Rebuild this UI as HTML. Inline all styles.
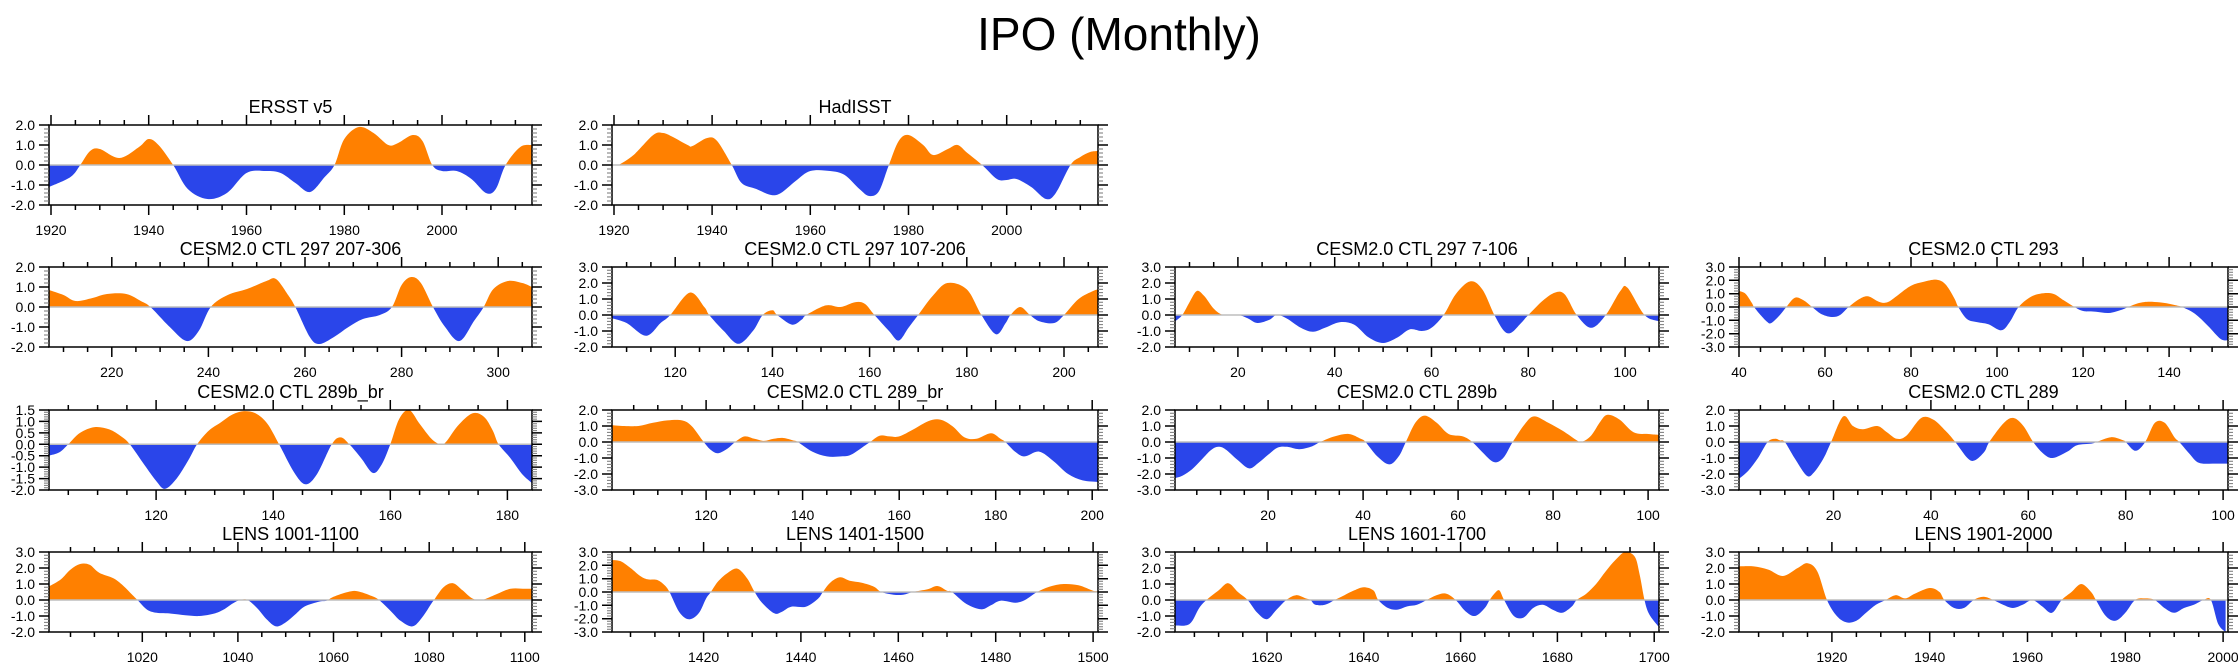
<!DOCTYPE html>
<html><head><meta charset="utf-8">
<style>
html,body{margin:0;padding:0;background:#fff;}
svg{display:block;font-family:"Liberation Sans",Arial,sans-serif;}
</style></head>
<body>
<svg id="chart" width="2238" height="670" viewBox="0 0 2238 670" xmlns="http://www.w3.org/2000/svg">
<rect width="2238" height="670" fill="#fff"/>
<text x="1119" y="50" font-size="46" text-anchor="middle" fill="#000">IPO (Monthly)</text>
</svg>
<script>
// ---- data (x = time, y = IPO index) ----
const ersstX=[1919.6,1924,1926,1928,1930,1934,1938,1940,1942,1945,1948,1952,1956,1960,1964,1967,1970,1973,1976,1978,1980,1983,1986,1989,1991,1994,1996,1998,2000,2003,2006,2009,2011,2013,2016,2018.4];
const ersstY=[-1.1,-0.6,0,0.7,0.8,0.35,0.9,1.3,1.0,0,-1.2,-1.7,-1.4,-0.4,-0.3,-0.4,-0.9,-1.35,-0.6,0,1.3,1.9,1.6,1.0,1.1,1.5,1.2,0,-0.3,-0.3,-0.7,-1.4,-1.2,0,0.9,1.0];
const hadX=[1921,1924,1928,1930,1932,1935,1936,1939,1941,1944,1946,1949,1952,1954,1957,1960,1964,1967,1970,1972,1974,1976,1978,1980,1983,1985,1988,1990,1992,1995,1998,2000,2002,2005,2008,2010,2013,2015,2017,2018.5];
const hadY=[0,0.5,1.5,1.6,1.4,1.0,0.95,1.35,1.2,0,-0.9,-1.2,-1.5,-1.4,-0.8,-0.3,-0.3,-0.5,-1.2,-1.55,-1.3,0,1.2,1.5,1.0,0.5,0.8,1.0,0.6,0,-0.7,-0.75,-0.7,-1.1,-1.7,-1.4,0,0.4,0.65,0.7];
const c297aX=[207,210,212.5,216,219,223,226,228,232,235.5,238,240.5,244,248,252,254,256.5,258,261,263,266,269,272,275.5,278,280,282,284,286.5,289,292,295,297,299,302,305,307];
const c297aY=[0.85,0.6,0.3,0.45,0.65,0.65,0.3,0,-1.0,-1.7,-1.2,0,0.6,0.9,1.3,1.4,0.6,0,-1.5,-1.85,-1.5,-1.0,-0.6,-0.4,0,1.1,1.5,1.2,0,-1.0,-1.7,-0.7,0,0.9,1.3,1.2,1.0];
const c297bX=[107,110,114,117,119,123,126,127,130,133,136,138,140,141,144,146,147,151,154,157,159,161,164,166,168,170,173,176,180,183,186,188,189,191,193,195,198,200,203,206,207];
const c297bY=[-0.2,-0.5,-1.3,-0.5,0,1.4,0.5,0,-1.0,-1.8,-1.0,0,0.3,0,-0.6,-0.3,0,0.6,0.5,0.8,0.7,0,-1.0,-1.6,-0.8,0,1.2,2.0,1.6,0,-1.2,-0.5,0,0.5,0,-0.4,-0.5,0,1.0,1.5,1.6];
const c297cX=[7,8.5,10,11.5,13,15,17,20,22,24,26.5,28,30,33,35.5,38,41,44,47,50,53,55.5,58,60,62.5,65,68,70.5,73,75,76.5,78.5,80,83,85.5,87.5,90,93,96,99,100.5,104,107];
const c297cY=[-0.4,0,0.8,1.5,1.2,0.4,0,0,-0.2,-0.5,-0.3,0,-0.2,-0.8,-1.05,-0.8,-0.45,-0.6,-1.4,-1.75,-1.4,-0.9,-1.0,-0.8,0,1.3,2.1,1.6,0,-1.0,-1.1,-0.5,0,0.9,1.4,1.3,0,-0.8,0,1.5,1.7,0,-0.4];
const c293X=[40,41.5,43,43.5,45,46.5,47.5,49.5,51,53,55,57,59,61.5,63.5,65.5,68,70,72.5,74.5,77,80,83,86,88,90,91,93,95.5,98,101,103,105,107.5,110,113,115.5,118,120,123,126,129,130.5,133,135.5,139,142,143,146,149,152,153.7];
const c293Y=[1.2,1.0,0.3,0,-0.6,-1.1,-1.2,-0.6,0,0.7,0.5,0,-0.5,-0.75,-0.6,0,0.6,0.8,0.4,0.35,0.9,1.6,1.9,2.05,1.7,0.7,0,-0.9,-1.15,-1.3,-1.75,-1.1,0,0.7,1.0,1.0,0.5,0,-0.3,-0.35,-0.45,-0.2,0,0.3,0.4,0.3,0.1,0,-0.5,-1.4,-2.4,-2.5];
const c289bbrX=[101.7,103.5,105,107,109.5,112,114,115.5,118,120,121.5,123.5,125.5,127,129,131,133,135,137,139,141,143.5,145.5,147.5,150,151.5,153,155,157,158.5,160,161.5,163.2,165,167,168.5,169.5,171.5,174,176,177.5,178.5,180.5,182.5,184.2];
const c289bbrY=[-0.5,-0.35,0,0.5,0.75,0.65,0.35,0,-0.9,-1.6,-1.95,-1.5,-0.7,0,0.6,0.95,1.3,1.45,1.35,0.9,0,-1.2,-1.75,-1.3,0,0.3,0,-0.6,-1.25,-0.9,0,1.1,1.5,0.9,0.25,0,0.1,0.8,1.35,1.2,0.6,0,-0.6,-1.3,-1.7];
const c289brX=[100.5,103,106,109,112,115,117,119.5,121,122.5,124.5,126,128,130,132,134,136,138,139,142,145,148,150,153,154,156,158,160,163,166,168.5,171,173.5,176,179,181,182,184,186,189,192,195,198,201.2];
const c289brY=[1.05,1.0,1.0,1.2,1.35,1.35,1.0,0,-0.5,-0.7,-0.4,0,0.35,0.2,0.07,0.2,0.25,0.1,0,-0.6,-0.9,-0.9,-0.8,-0.2,0,0.4,0.35,0.35,0.8,1.3,1.4,1.0,0.3,0.2,0.55,0.2,0,-0.6,-0.9,-0.6,-1.2,-2.0,-2.4,-2.5];
const c289bX=[0.4,2,4,6,8,9.5,11,13.5,16,18,20,22,24,26.5,29,31,34,37,39.5,40.5,43,45.5,47.5,49,51,53,55.5,58,61,63,65,67.5,69.5,71.5,74,76,79,82,85,86,88,90,91.5,94,97,100,102.3];
const c289bY=[-2.25,-2.1,-1.7,-1.1,-0.5,-0.3,-0.45,-1.1,-1.65,-1.3,-0.8,-0.35,-0.3,-0.45,-0.3,0,0.35,0.5,0.2,0,-0.9,-1.4,-0.9,0,1.2,1.65,1.2,0.5,0.35,0,-0.6,-1.25,-1.0,0,1.1,1.6,1.2,0.7,0.1,0,0.4,1.3,1.7,1.4,0.6,0.5,0.45];
const c289X=[0.6,2.5,4.5,6.5,8,9,10,12,14.5,16,18,19.5,22,24,26,29,31,33,35,38,40.5,43,45,47.5,49,51,52,55,57,59,61,63,65,68,70,73,74,77,79.5,80,82,84,86,88,90,91,93,95,98,101];
const c289Y=[-2.3,-1.8,-1.0,0,0.2,0.1,0,-1.0,-2.1,-1.9,-1.0,0,1.6,1.0,0.8,1.0,0.6,0.2,0.4,1.5,1.4,0.7,0,-1.0,-1.15,-0.6,0,1.2,1.5,1.0,0,-0.7,-1.0,-0.6,-0.2,-0.1,0,0.3,0.1,0,-0.55,0,1.2,1.2,0.3,0,-0.7,-1.3,-1.35,-1.35];
const l1001X=[1000.5,1003,1005,1007,1009,1011,1014,1016,1018,1019,1021,1023,1026,1029,1032,1035,1037,1039,1040.5,1042,1044,1046,1048,1050,1052,1054,1057,1058.5,1060,1063,1065,1068,1069.5,1072,1074,1076.5,1078.5,1080.5,1081,1083,1085,1087,1089,1091,1094,1097,1100,1101.5];
const l1001Y=[0.85,1.3,1.9,2.25,2.2,1.7,1.35,0.9,0.3,0,-0.6,-0.8,-0.85,-0.95,-1.0,-0.85,-0.6,-0.2,0,0,-0.5,-1.2,-1.65,-1.4,-0.9,-0.4,-0.1,-0.05,0.2,0.5,0.55,0.25,0,-0.7,-1.3,-1.65,-1.1,-0.2,0,0.8,1.05,0.6,0.1,0,0.35,0.7,0.7,0.7];
const l1401X=[1401.2,1403,1405,1407,1408.5,1410.5,1412,1413,1415,1417,1419,1420.5,1421.5,1423,1425,1427,1429,1430.5,1432,1434.5,1436,1438,1441,1443.5,1444.5,1446,1448,1450,1452.5,1455,1456.5,1459,1461,1463,1466,1468,1470,1471,1474,1477,1479,1481,1484,1486,1488.5,1491,1494,1497,1500,1501];
const l1401Y=[2.4,2.3,1.8,1.2,0.95,0.9,0.5,0,-1.5,-2.05,-1.6,-0.5,0,0.8,1.45,1.75,1.0,0,-0.8,-1.6,-1.5,-1.1,-1.1,-0.5,0,0.7,1.1,0.85,0.7,0.4,0,-0.2,-0.2,0,0.2,0.45,0.1,0,-0.9,-1.3,-1.0,-0.65,-0.8,-0.6,0,0.4,0.6,0.5,0.1,0.1];
const l1601X=[1601,1604,1606,1607.5,1610,1612,1614,1616,1618,1620,1622,1624,1626,1628,1629,1630,1632,1634,1636,1638,1640,1642,1643,1645,1647,1649,1651,1653,1655,1657,1659,1661,1663,1665,1666,1667,1668,1669,1671,1673,1675,1677,1679,1681,1683,1684,1686,1688,1690,1692,1694,1696,1697,1698,1699,1701];
const l1601Y=[-1.6,-1.5,-0.5,0,0.6,1.05,0.5,0,-0.8,-1.2,-0.6,0,0.3,0.1,0,-0.3,-0.3,0,0.3,0.6,0.8,0.6,0,-0.5,-0.6,-0.4,-0.3,0,0.3,0.4,0,-0.7,-1.0,-0.5,0,0.4,0.6,0,-1.0,-1.1,-0.5,-0.3,-0.6,-0.8,-0.4,0,0.4,1.0,1.8,2.5,3.0,2.7,1.6,0,-0.9,-1.7];
const l1901X=[1901,1904,1907,1910,1913,1915,1917,1919,1921,1923,1925,1927,1929,1931,1933,1935,1937,1940,1942,1943,1945,1947,1949,1951,1953,1955,1957,1959,1961,1963,1965,1967,1969,1971,1973,1974,1976,1978,1980,1982,1984,1986,1988,1990,1992,1994,1996,1997.5,1999,2000.5];
const l1901Y=[2.1,2.1,1.9,1.5,2.0,2.3,1.8,0,-1.0,-1.4,-1.3,-0.8,-0.3,0,0.3,0.1,0.4,0.75,0.5,0,-0.5,-0.5,0,0.2,0,-0.3,-0.5,-0.3,0,-0.4,-0.8,0,0.5,1.0,0.5,0,-1.0,-1.3,-0.8,0,0.1,0,-0.5,-0.8,-0.5,-0.3,0,0,-1.5,-2.0];

// ---- layout ----
const colLeft=[49,612,1175,1739], colW=[483,486,484,489], rowTop=[125,267,410,552], PH=80;
const panels=[
 {t:"ERSST v5",r:0,c:0,xs:ersstX,ys:ersstY,x0:1919.6,x1:2018.4,y0:-2,y1:2,ys_:1},
 {t:"HadISST",r:0,c:1,xs:hadX,ys:hadY,x0:1919.6,x1:2018.6,y0:-2,y1:2,ys_:1},
 {t:"CESM2.0 CTL 297 207-306",r:1,c:0,xs:c297aX,ys:c297aY,x0:207,x1:307,y0:-2,y1:2,ys_:1},
 {t:"CESM2.0 CTL 297 107-206",r:1,c:1,xs:c297bX,ys:c297bY,x0:107,x1:207,y0:-2,y1:3,ys_:1},
 {t:"CESM2.0 CTL 297 7-106",r:1,c:2,xs:c297cX,ys:c297cY,x0:7,x1:107,y0:-2,y1:3,ys_:1},
 {t:"CESM2.0 CTL 293",r:1,c:3,xs:c293X,ys:c293Y,x0:40,x1:153.7,y0:-3,y1:3,ys_:1},
 {t:"CESM2.0 CTL 289b_br",r:2,c:0,xs:c289bbrX,ys:c289bbrY,x0:101.7,x1:184.2,y0:-2,y1:1.5,ys_:0.5},
 {t:"CESM2.0 CTL 289_br",r:2,c:1,xs:c289brX,ys:c289brY,x0:100.5,x1:201.2,y0:-3,y1:2,ys_:1},
 {t:"CESM2.0 CTL 289b",r:2,c:2,xs:c289bX,ys:c289bY,x0:0.4,x1:102.3,y0:-3,y1:2,ys_:1},
 {t:"CESM2.0 CTL 289",r:2,c:3,xs:c289X,ys:c289Y,x0:0.6,x1:101,y0:-3,y1:2,ys_:1},
 {t:"LENS 1001-1100",r:3,c:0,xs:l1001X,ys:l1001Y,x0:1000.5,x1:1101.5,y0:-2,y1:3,ys_:1},
 {t:"LENS 1401-1500",r:3,c:1,xs:l1401X,ys:l1401Y,x0:1401.2,x1:1501,y0:-3,y1:3,ys_:1},
 {t:"LENS 1601-1700",r:3,c:2,xs:l1601X,ys:l1601Y,x0:1601,x1:1701,y0:-2,y1:3,ys_:1},
 {t:"LENS 1901-2000",r:3,c:3,xs:l1901X,ys:l1901Y,x0:1901,x1:2001,y0:-2,y1:3,ys_:1}
];
const NS="http://www.w3.org/2000/svg";
const svg=document.getElementById('chart');
function mk(tag,attrs,parent){const e=document.createElementNS(NS,tag);for(const k in attrs)e.setAttribute(k,attrs[k]);(parent||svg).appendChild(e);return e;}
function slug(s){return s.toLowerCase().replace(/[^a-z0-9]+/g,'-').replace(/^-|-$/g,'');}

panels.forEach((p,i)=>{
  const L=colLeft[p.c], W=colW[p.c], T=rowTop[p.r], B=T+PH;
  const sx=v=>L+(v-p.x0)/(p.x1-p.x0)*W;
  const sy=v=>B-(v-p.y0)/(p.y1-p.y0)*PH;
  const g=mk('g',{});
  
  
  const ttl=mk('text',{x:L+W/2,y:T-12,'font-size':18,'text-anchor':'middle',fill:'#000'},g);
  ttl.textContent=p.t;
  
  
  const z=sy(0);
  const defs=mk('defs',{},g);
  const cpA=mk('clipPath',{id:'ca'+i},defs); mk('rect',{x:L,y:T,width:W,height:z-T},cpA);
  const cpB=mk('clipPath',{id:'cb'+i},defs); mk('rect',{x:L,y:z,width:W,height:B-z},cpB);
  const pts=p.xs.map((x,k)=>[sx(x),sy(p.ys[k])]);
  let d='M'+pts[0][0].toFixed(1)+','+z.toFixed(1)+' L'+pts[0][0].toFixed(1)+','+pts[0][1].toFixed(1);
  for(let k=0;k<pts.length-1;k++){
    const p0=pts[Math.max(0,k-1)],p1=pts[k],p2=pts[k+1],p3=pts[Math.min(pts.length-1,k+2)];
    const c1=[p1[0]+(p2[0]-p0[0])/6,p1[1]+(p2[1]-p0[1])/6];
    const c2=[p2[0]-(p3[0]-p1[0])/6,p2[1]-(p3[1]-p1[1])/6];
    d+=' C'+c1[0].toFixed(1)+','+c1[1].toFixed(1)+' '+c2[0].toFixed(1)+','+c2[1].toFixed(1)+' '+p2[0].toFixed(1)+','+p2[1].toFixed(1);
  }
  d+=' L'+pts[pts.length-1][0].toFixed(1)+','+z.toFixed(1)+' Z';
  const pos=mk('path',{d:d,fill:'#ff8000','clip-path':'url(#ca'+i+')'},g);
  
  
  const neg=mk('path',{d:d,fill:'#2a45ea','clip-path':'url(#cb'+i+')'},g);
  
  
  const zl=mk('line',{x1:L,x2:L+W,y1:z,y2:z,stroke:'#bdbdbd','stroke-width':1.5},g);
  
  
  const fr=mk('rect',{x:L,y:T,width:W,height:PH,fill:'none',stroke:'#000','stroke-width':1.5},g);
  
  
  let tk='';
  const xs0=Math.ceil(p.x0/5)*5;
  for(let v=xs0;v<=p.x1+1e-6;v+=5){
    const X=sx(v).toFixed(1), major=(v%20===0);
    const len=major?10:5;
    tk+='M'+X+','+T+'v'+(-len)+'M'+X+','+B+'v'+len;
    if(major){
      const lb=mk('text',{x:X,y:B+30,'font-size':14,'text-anchor':'middle',fill:'#000'},g);
      lb.textContent=String(v);
      
      
    }
  }
  const minor=p.ys_/5;
  let mtk='';
  const n=Math.round((p.y1-p.y0)/minor);
  for(let k=0;k<=n;k++){
    const v=p.y0+k*minor, Y=sy(v).toFixed(1);
    const isMaj=(k%5===0);
    if(isMaj){
      tk+='M'+L+','+Y+'h-10M'+(L+W)+','+Y+'h10';
      const lb=mk('text',{x:L-14,y:+Y+5,'font-size':14,'text-anchor':'end',fill:'#000'},g);
      lb.textContent=v.toFixed(1);
      
      
    } else {
      mtk+='M'+L+','+Y+'h-5M'+(L+W)+','+Y+'h5';
    }
  }
  const tp=mk('path',{d:tk,stroke:'#000','stroke-width':1.5,fill:'none'},g);
  
  
  const mp=mk('path',{d:mtk,stroke:'#777','stroke-width':1,fill:'none'},g);
  
  
});
</script>
</body></html>
